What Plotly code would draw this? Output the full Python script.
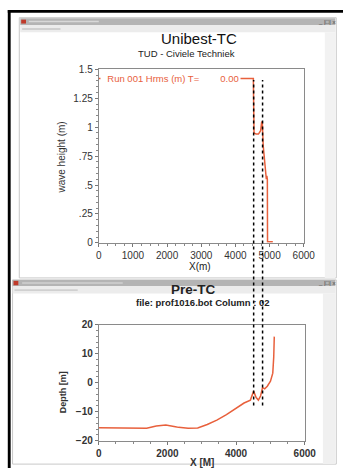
import plotly.graph_objects as go

W, H = 355, 474

# ---------------- data ----------------
top_x = [0, 4490, 4525, 4545, 4607, 4674, 4739, 4767, 4786, 4814, 4859, 4887, 4905, 4920, 4935, 4940, 5095]
top_h = [1.42, 1.42, 1.42, 0.95, 0.94, 0.94, 0.97, 1.04, 1.05, 0.84, 0.67, 0.59, 0.55, 0.58, 0.55, 0.01, 0.01]

bot_x = [0, 1116, 1395, 1674, 1953, 2233, 2325, 2604, 2883, 3161, 3440, 3720, 3998,
         4233, 4418, 4512, 4585, 4651, 4716, 4772, 4835, 4911, 5003, 5070, 5098, 5114]
bot_z = [-15.5, -15.5, -15.7, -14.9, -14.6, -15.2, -15.4, -15.7, -15.6, -14.4, -12.9, -11.0, -8.8,
         -7.0, -6.0, -2.9, -5.1, -6.0, -4.5, -1.7, -2.1, -1.2, 0.5, 3.3, 8.9, 15.9]

top_yticks = [0, 0.25, 0.5, 0.75, 1, 1.25, 1.5]
top_yticktext = ["0", ".25", ".5", ".75", "1", "1.25", "1.5"]
top_xticks = [0, 1000, 2000, 3000, 4000, 5000, 6000]
bot_yticks = [-20, -10, 0, 10, 20]
bot_xticks = [0, 2000, 4000, 6000]
marker_x = [4534, 4795]

LINE = "#e8603c"
FONT = "Liberation Sans, Arial, sans-serif"


def px(x):
    return x / W


def py(y):
    return 1 - y / H


def rect(x0, x1, y0, y1, color, line=None):
    return dict(type="rect", xref="paper", yref="paper", x0=px(x0), x1=px(x1), y0=py(y1), y1=py(y0),
                fillcolor=color, line=line or dict(width=0), layer="below")


def text(t, x, y, size, color="#222", angle=0, xanchor="center", bg=None):
    d = dict(text=t, x=px(x), y=py(y), xref="paper", yref="paper", showarrow=False,
             xanchor=xanchor, yanchor="middle", textangle=angle,
             font=dict(family=FONT, size=size, color=color))
    if bg:
        d["bgcolor"] = bg
        d["borderpad"] = 1
    return d


fig = go.Figure()
fig.add_trace(go.Scatter(x=top_x, y=top_h, mode="lines", line=dict(color=LINE, width=1.5),
                         xaxis="x", yaxis="y", showlegend=False, hoverinfo="skip"))
fig.add_trace(go.Scatter(x=bot_x, y=bot_z, mode="lines", line=dict(color=LINE, width=1.5),
                         xaxis="x2", yaxis="y2", showlegend=False, hoverinfo="skip"))

shapes = [
    # outer black frame
    rect(5, 8, 4, 474, "black"),
    rect(5, 355, 4, 7, "black"),
    # top window
    rect(17, 348, 12, 279, "white", dict(color="#c8c8c8", width=1)),
    rect(18, 347, 12.5, 19.5, "#b4b4b4"),
    rect(18, 347, 19.5, 27, "#ececec"),
    rect(19, 24, 14, 18, "#c03a2a"),
    rect(27, 100, 15.2, 16.8, "#d8d8d8"),
    rect(20, 60, 22.5, 24.5, "#d0d0d0"),
    rect(336, 347, 27, 279, "#f2f2f2"),
    # bottom window
    rect(10, 348, 281, 470, "white", dict(color="#c8c8c8", width=1)),
    rect(10, 347, 281, 287.5, "#b4b4b4"),
    rect(10, 347, 287.5, 295, "#ececec"),
    rect(11, 16, 282, 286.5, "#c03a2a"),
    rect(20, 125, 283.5, 285, "#d0d0d0"),
    rect(12, 78, 290.5, 292.5, "#d0d0d0"),
    rect(334, 347, 295, 470, "#f0f0f0"),
]
# dotted marker lines spanning both panels
for mx in marker_x:
    shapes.append(dict(type="line", xref="x", yref="paper", x0=mx, x1=mx, y0=py(410), y1=py(76),
                       line=dict(color="black", width=1.5, dash="dot"), layer="above"))

annotations = [
    text("Unibest-TC", 205, 33.5, 15, "#111"),
    text("TUD - Civiele Techniek", 192, 49, 9.5, "#222"),
    text("\u00a0\u00a0Run 001 Hrms (m) T=\u00a0\u00a0\u00a0\u00a0\u00a0\u00a0\u00a0\u00a00.00", 101, 74, 9.5, LINE,
         xanchor="left", bg="white"),
    text("wave height (m)", 61, 155, 10, "#333", angle=-90),
    text("X(m)", 206, 267, 10, "#222"),
    text("_ |□| x", 338, 16, 6, "#444"),
    text("_ |□| x", 338, 284.5, 6, "#444"),
    text("<b>Pre-TC</b>", 199, 290.5, 13.5, "#222"),
    text("<b>file: prof1016.bot Column : 02</b>", 209, 304.5, 9.5, "#222"),
    text("<b>Depth [m]</b>", 63, 396, 9, "#333", angle=-90),
    text("<b>X [M]</b>", 208, 468, 10, "#333"),
]

axcommon = dict(showline=True, linecolor="#8a8a8a", linewidth=1, mirror=True, showgrid=False,
                zeroline=False, ticks="outside", ticklen=3, tickcolor="#777")

fig.update_layout(
    width=W, height=H, margin=dict(l=0, r=0, t=0, b=0),
    paper_bgcolor="white", plot_bgcolor="white",
    shapes=shapes, annotations=annotations, showlegend=False,
    xaxis=dict(domain=[px(100), px(314)], range=[0, 6000], anchor="y", tickvals=top_xticks,
               tickfont=dict(family=FONT, size=10, color="#333"),
               minor=dict(dtick=250, ticks="outside", ticklen=2, tickcolor="#888"), **axcommon),
    yaxis=dict(domain=[py(243), py(65)], range=[0, 1.5], anchor="x", tickvals=top_yticks,
               ticktext=top_yticktext, tickfont=dict(family=FONT, size=10, color="#333"),
               minor=dict(dtick=0.05, ticks="outside", ticklen=2, tickcolor="#888"), **axcommon),
    xaxis2=dict(domain=[px(100), px(315)], range=[0, 6000], anchor="y2", tickvals=bot_xticks,
                tickfont=dict(family=FONT, size=10, color="#333", weight="bold"),
                minor=dict(dtick=500, ticks="outside", ticklen=2, tickcolor="#888"), **axcommon),
    yaxis2=dict(domain=[py(446), py(327)], range=[-20, 20], anchor="x2", tickvals=bot_yticks,
                tickfont=dict(family=FONT, size=10, color="#333", weight="bold"),
                minor=dict(dtick=2, ticks="outside", ticklen=2, tickcolor="#888"), **axcommon),
)

fig.write_html("out.html")
